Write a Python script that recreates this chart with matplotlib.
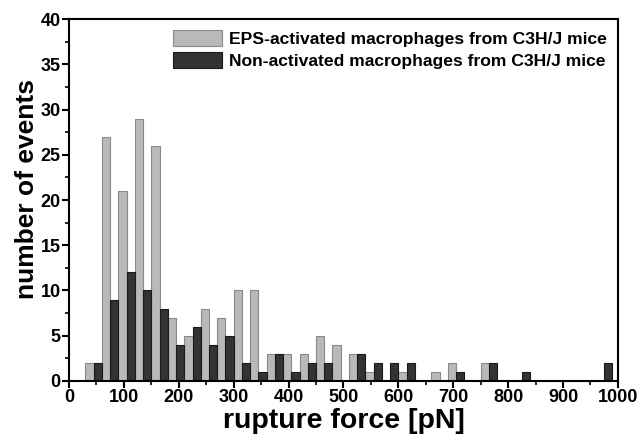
import numpy as np
import matplotlib.pyplot as plt
from matplotlib.ticker import MultipleLocator

plt.rcParams['font.family'] = ['Liberation Sans', 'DejaVu Sans']
plt.rcParams['font.weight'] = 'bold'

# bin centres (pN), 30 pN bins
centers = [45, 75, 105, 135, 165, 195, 225, 255, 285, 315, 345, 375, 405, 435,
           465, 495, 525, 555, 585, 615, 645, 675, 705, 735, 765, 795, 825, 855,
           885, 915, 945, 975]
eps_activated = [2, 27, 21, 29, 26, 7, 5, 8, 7, 10, 10, 3, 3, 3,
                 5, 4, 3, 1, 0, 1, 0, 1, 2, 0, 2, 0, 0, 0,
                 0, 0, 0, 0]
non_activated = [2, 9, 12, 10, 8, 4, 6, 4, 5, 2, 1, 3, 1, 2,
                 2, 0, 3, 2, 2, 2, 0, 0, 1, 0, 2, 0, 1, 0,
                 0, 0, 0, 2]
labels = ['EPS-activated macrophages from C3H/J mice',
          'Non-activated macrophages from C3H/J mice']

fig = plt.figure(figsize=(6.39, 4.43), dpi=100)
ax = fig.add_axes([0.108, 0.14, 0.859, 0.817])

x = np.array(centers)
ax.bar(x - 7.5, eps_activated, width=15, color='#b9b9b9', edgecolor='#8a8a8a',
       linewidth=0.8, label=labels[0])
ax.bar(x + 7.5, non_activated, width=15, color='#333333', edgecolor='#1a1a1a',
       linewidth=0.8, label=labels[1])

ax.set_xlim(0, 1000)
ax.set_ylim(0, 40)
ax.xaxis.set_major_locator(MultipleLocator(100))
ax.xaxis.set_minor_locator(MultipleLocator(50))
ax.yaxis.set_major_locator(MultipleLocator(5))
ax.yaxis.set_minor_locator(MultipleLocator(2.5))
ax.tick_params(which='major', direction='out', length=5, width=1.5,
               labelsize=13, pad=1)
ax.tick_params(which='minor', direction='out', length=3, width=1.2)
for lab in ax.get_xticklabels() + ax.get_yticklabels():
    lab.set_fontweight('bold')
for sp in ax.spines.values():
    sp.set_linewidth(1.5)

ax.set_xlabel('rupture force [pN]', fontsize=20.5, fontweight='bold')
ax.set_ylabel('number of events', fontsize=19, fontweight='bold')
ax.xaxis.set_label_coords(0.5, -0.076)
ax.yaxis.set_label_coords(-0.055, 0.53)

ax.legend(loc='upper right', frameon=False, handlelength=2.8,
          handleheight=1.0, labelspacing=0.3, handletextpad=0.4,
          borderaxespad=0.25, prop={'weight': 'bold', 'size': 12.6})

fig.savefig('out.png', dpi=100)
